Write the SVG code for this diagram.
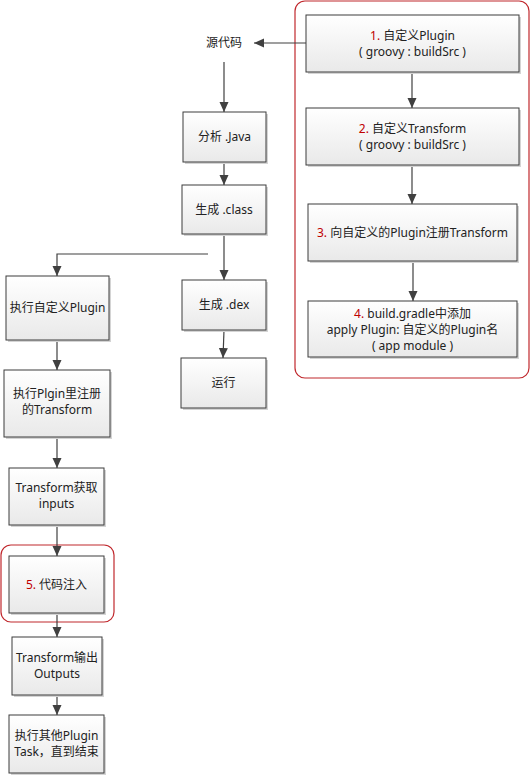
<svg xmlns="http://www.w3.org/2000/svg" width="532" height="775" viewBox="0 0 532 775">
<style>
.box{fill:url(#g);stroke:#3c3c3c;stroke-width:1}
.sh{fill:#d4d4d4}
text{font-family:"Noto Sans","Noto Sans CJK SC",sans-serif;font-size:12px;fill:#222;text-anchor:middle}
.n{fill:#c00000}
.c{fill:none;stroke:#404040;stroke-width:1.2}
.red{fill:none;stroke:#c0282d;stroke-width:1.2}
</style>
<defs>
<linearGradient id="g" x1="0" y1="0" x2="0" y2="1">
<stop offset="0" stop-color="#ffffff"/>
<stop offset="1" stop-color="#e9e9e9"/>
</linearGradient>
<marker id="a" markerWidth="11" markerHeight="11" refX="10" refY="5" orient="auto" markerUnits="userSpaceOnUse">
<path d="M0,0.5 L10,5 L0,9.5 z" fill="#404040"/>
</marker>
</defs>
<rect x="295" y="1" width="234" height="377" rx="10" class="red"/>
<rect x="1" y="545" width="113" height="77" rx="10" class="red"/>
<g id="connectors">
<line class="c" x1="306" y1="43" x2="254" y2="43" marker-end="url(#a)"/>
<line class="c" x1="224" y1="62" x2="224" y2="112" marker-end="url(#a)"/>
<line class="c" x1="224" y1="162" x2="224" y2="185" marker-end="url(#a)"/>
<line class="c" x1="224" y1="234" x2="224" y2="280" marker-end="url(#a)"/>
<polyline class="c" points="208,254 57,254 57,276" marker-end="url(#a)"/>
<line class="c" x1="224" y1="330" x2="223" y2="358" marker-end="url(#a)"/>
<line class="c" x1="412" y1="72" x2="412" y2="108" marker-end="url(#a)"/>
<line class="c" x1="412" y1="165" x2="412" y2="204" marker-end="url(#a)"/>
<line class="c" x1="413" y1="261" x2="413" y2="301" marker-end="url(#a)"/>
<line class="c" x1="57" y1="340" x2="57" y2="370" marker-end="url(#a)"/>
<line class="c" x1="57" y1="437" x2="57" y2="468" marker-end="url(#a)"/>
<line class="c" x1="57" y1="525" x2="57" y2="556" marker-end="url(#a)"/>
<line class="c" x1="57" y1="613" x2="57" y2="637" marker-end="url(#a)"/>
<line class="c" x1="57" y1="695" x2="57" y2="715" marker-end="url(#a)"/>
</g>
<g id="src"><text x="224" y="47" font-size="13">源代码</text></g>
<g id="java"><rect class="sh" x="185" y="114" width="83" height="50"/><rect class="box" x="183" y="112" width="83" height="50"/><text x="224.5" y="141">分析 .Java</text></g>
<g id="class"><rect class="sh" x="184" y="187" width="84" height="49"/><rect class="box" x="182" y="185" width="84" height="49"/><text x="224" y="213.5">生成 .class</text></g>
<g id="dex"><rect class="sh" x="184" y="282" width="84" height="50"/><rect class="box" x="182" y="280" width="84" height="50"/><text x="224" y="309">生成 .dex</text></g>
<g id="run"><rect class="sh" x="183" y="360" width="85" height="50"/><rect class="box" x="181" y="358" width="85" height="50"/><text x="223.5" y="387">运行</text></g>
<g id="s1"><rect class="sh" x="308" y="17" width="213" height="57"/><rect class="box" x="306" y="15" width="213" height="57"/><text x="412.5" y="40"><tspan class="n">1.</tspan> 自定义Plugin</text><text x="412.5" y="56">( groovy : buildSrc )</text></g>
<g id="s2"><rect class="sh" x="308" y="110" width="213" height="57"/><rect class="box" x="306" y="108" width="213" height="57"/><text x="412.5" y="133"><tspan class="n">2.</tspan> 自定义Transform</text><text x="412.5" y="149">( groovy : buildSrc )</text></g>
<g id="s3"><rect class="sh" x="310" y="206" width="209" height="57"/><rect class="box" x="308" y="204" width="209" height="57"/><text x="412.5" y="236.5"><tspan class="n">3.</tspan> 向自定义的Plugin注册Transform</text></g>
<g id="s4"><rect class="sh" x="310" y="303" width="209" height="56"/><rect class="box" x="308" y="301" width="209" height="56"/><text x="412.5" y="317.5"><tspan class="n">4.</tspan> build.gradle中添加</text><text x="412.5" y="333.5">apply Plugin: 自定义的Plugin名</text><text x="412.5" y="349.5">( app module )</text></g>
<g id="exec"><rect class="sh" x="8" y="278" width="103" height="64"/><rect class="box" x="6" y="276" width="103" height="64"/><text x="57.5" y="312">执行自定义Plugin</text></g>
<g id="reg"><rect class="sh" x="6" y="372" width="106" height="67"/><rect class="box" x="4" y="370" width="106" height="67"/><text x="57" y="398">执行Plgin里注册</text><text x="57" y="414">的Transform</text></g>
<g id="inputs"><rect class="sh" x="11" y="470" width="95" height="57"/><rect class="box" x="9" y="468" width="95" height="57"/><text x="56.5" y="492">Transform获取</text><text x="56.5" y="508">inputs</text></g>
<g id="inject"><rect class="sh" x="11" y="558" width="95" height="57"/><rect class="box" x="9" y="556" width="95" height="57"/><text x="56.5" y="589"><tspan class="n">5.</tspan> 代码注入</text></g>
<g id="outputs"><rect class="sh" x="14" y="639" width="90" height="58"/><rect class="box" x="12" y="637" width="90" height="58"/><text x="57" y="662">Transform输出</text><text x="57" y="678">Outputs</text></g>
<g id="other"><rect class="sh" x="11" y="717" width="95" height="58"/><rect class="box" x="9" y="715" width="95" height="58"/><text x="56.5" y="740">执行其他Plugin</text><text x="56.5" y="756">Task，直到结束</text></g>
</svg>
